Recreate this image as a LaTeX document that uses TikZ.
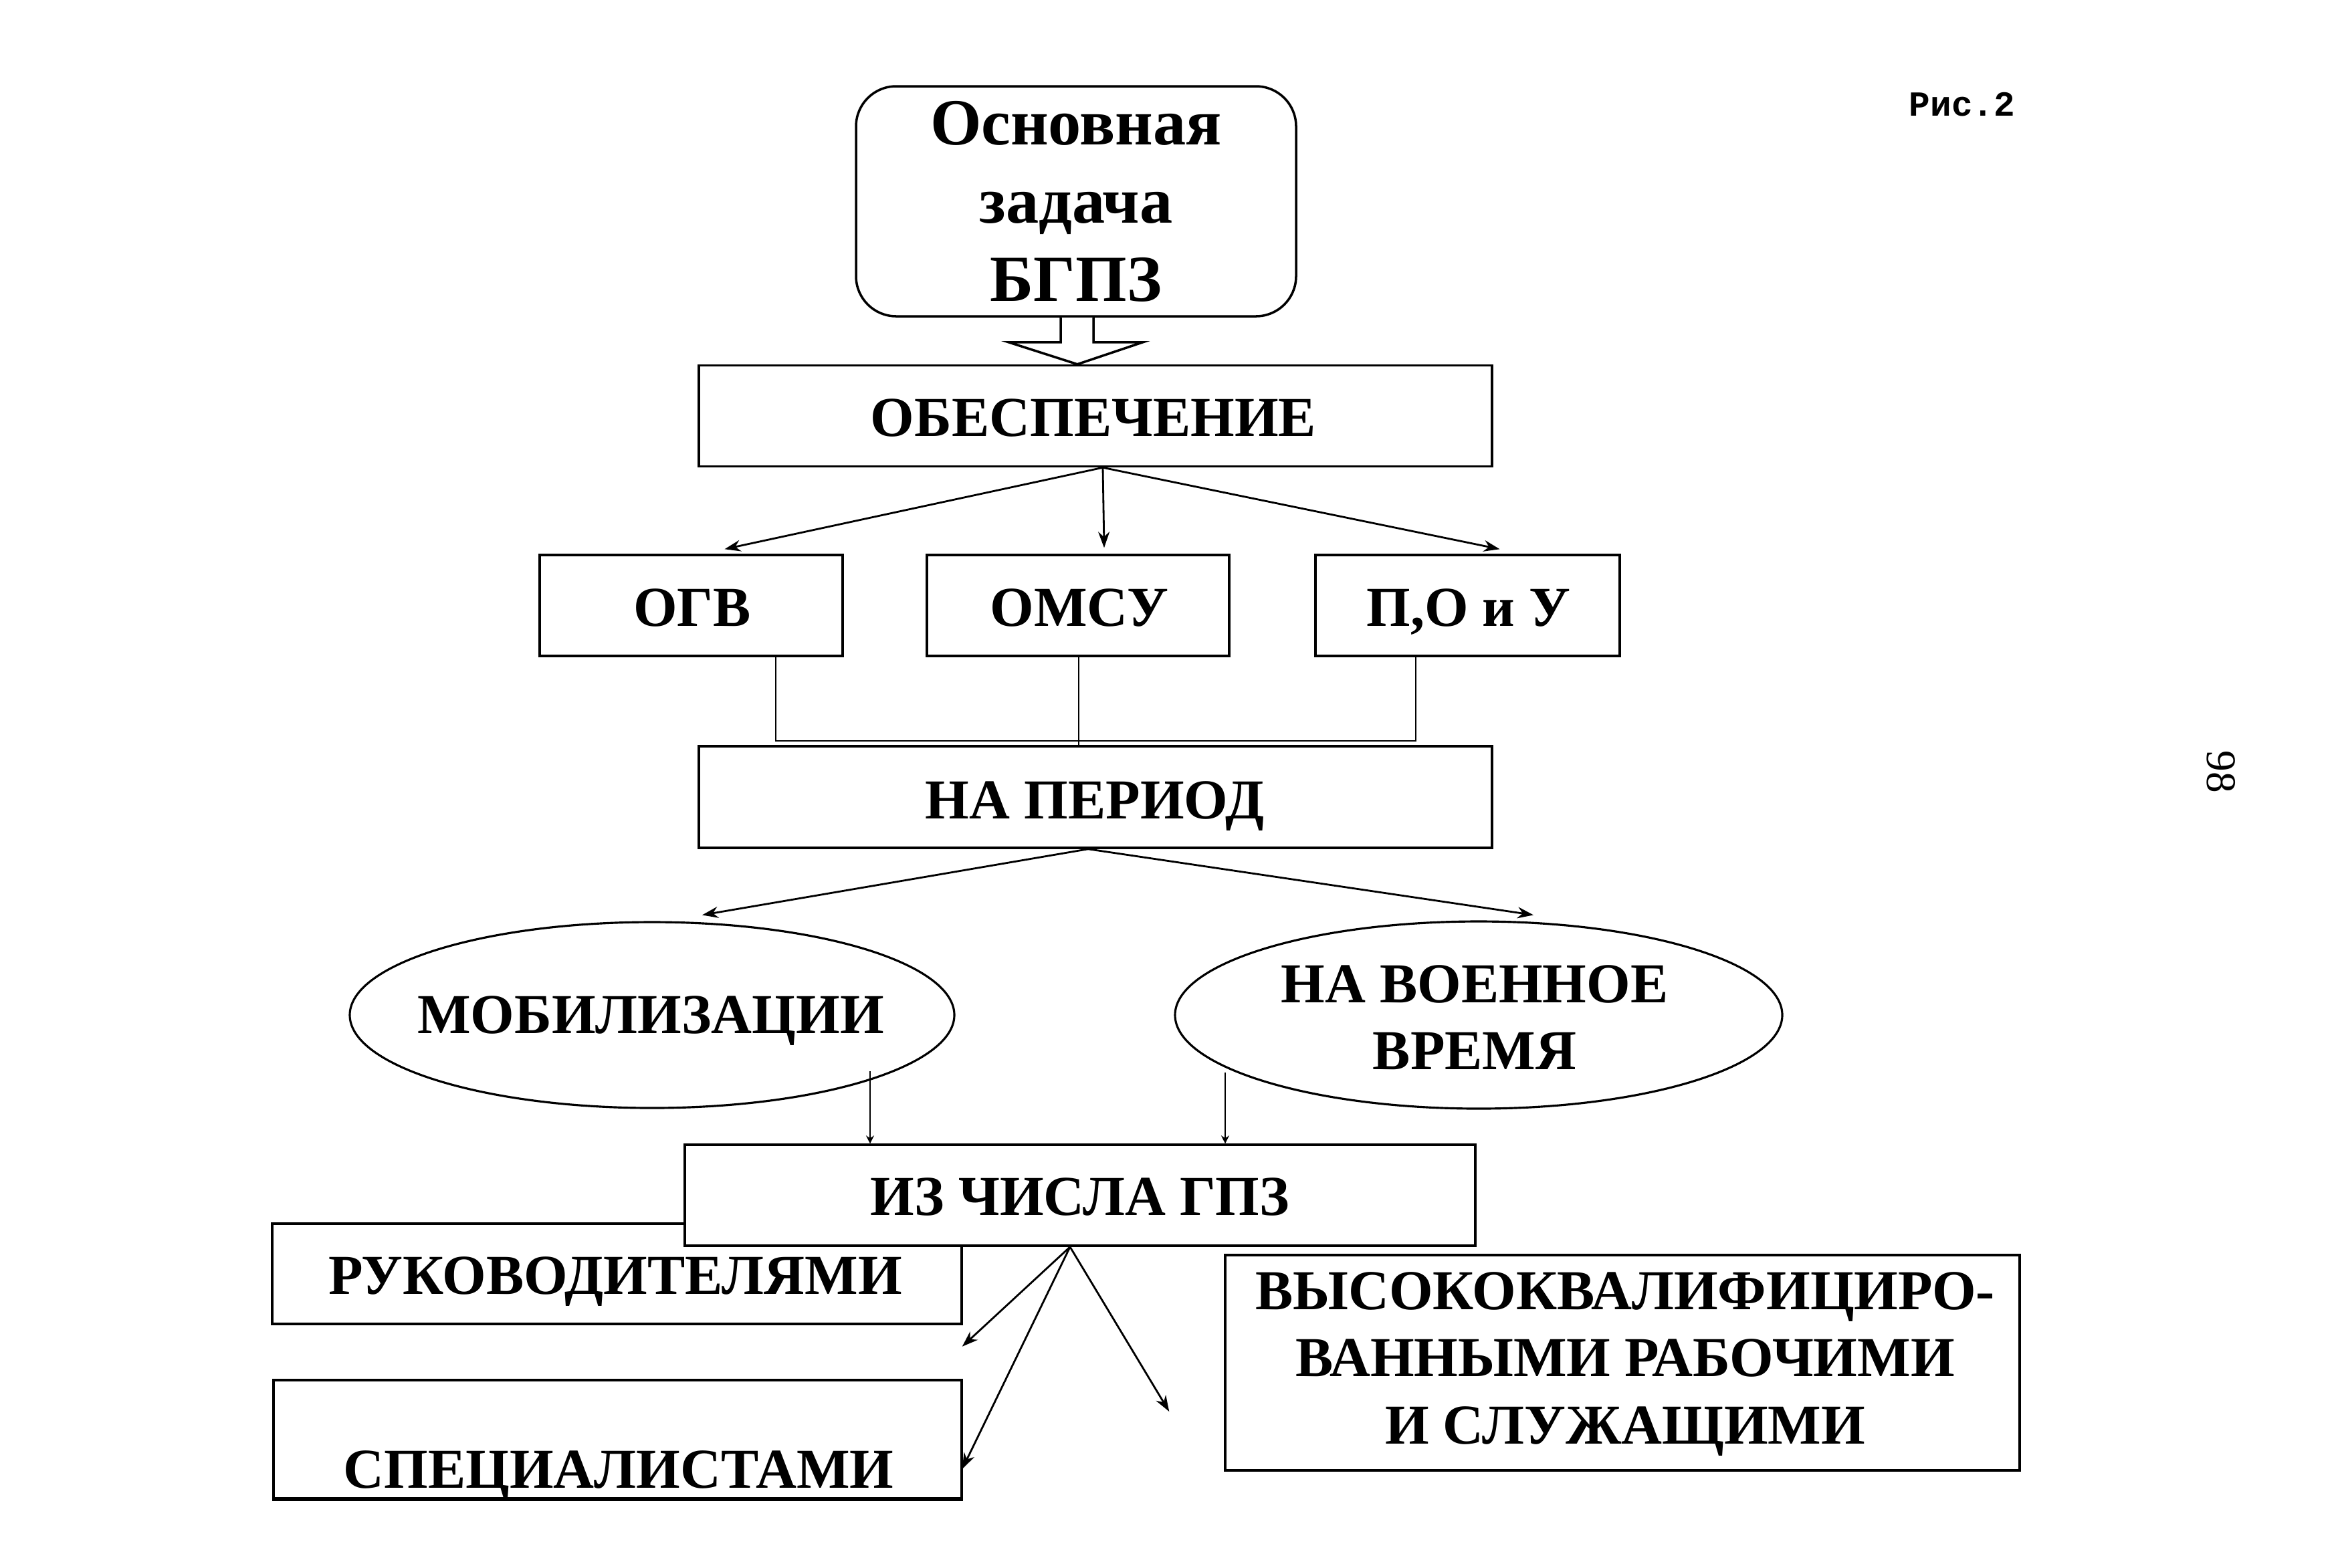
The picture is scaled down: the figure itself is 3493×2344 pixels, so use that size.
\documentclass[tikz,border=0pt]{standalone}
\usepackage{fontspec}
\setmainfont{Liberation Serif}
\newfontfamily\monofnt{Liberation Mono}
\usetikzlibrary{shapes.geometric,arrows.meta,calc}
\begin{document}
\begin{tikzpicture}[x=0.1mm,y=-0.1mm,
  box/.style={draw, line width=1pt, fill=white, inner sep=0pt, align=center},
  lbl/.style={font=\fontsize{24}{28.4}\selectfont\bfseries, inner sep=0pt, text height=15.9pt, text depth=0pt},
  mlbl/.style={font=\fontsize{24}{28.4}\selectfont\bfseries, inner sep=0pt, align=center},
  oval/.style={draw, ellipse, line width=0.9pt, inner sep=0pt},
  arr/.style={-{Stealth[length=2.4mm,width=1.7mm]}, line width=0.8pt},
  tinyarr/.style={-{Stealth[length=1.2mm,width=1.2mm]}, line width=0.6pt},
  link/.style={line width=0.7pt}]
\useasboundingbox (0,0) rectangle (3493,2344);
\fill[white] (0,0) rectangle (3493,2344);

% top box
\node[box, rounded corners=6mm, minimum width=65.8mm, minimum height=34.4mm,
      font=\fontsize{28}{33.3}\selectfont\bfseries] (top) at (1609,301)
      {Основная\\задача\\БГПЗ};

\node[box, minimum width=118.6mm, minimum height=15.1mm] (obesp) at (1638,622) {};
\node[lbl] (obespt) at (1635,625) {ОБЕСПЕЧЕНИЕ};

% hollow block arrow
\draw[line width=1pt, fill=white]
  ($(top.south)+(-23,0)$) -- ($(top.south)+(-23,37)$) -- ($(top.south)+(-101,37)$)
  -- ($(obesp.north)+(-27,0)$) -- ($(top.south)+(100,37)$) -- ($(top.south)+(26,37)$)
  -- ($(top.south)+(26,0)$);

\node[box, minimum width=45.3mm, minimum height=15.1mm] (ogv) at (1033.5,905.5) {};
\node[lbl] (ogvt) at (1035,909) {ОГВ};
\node[box, minimum width=45.2mm, minimum height=15.1mm] (omsu) at (1612,905.5) {};
\node[lbl] (omsut) at (1614,909) {ОМСУ};
\node[box, minimum width=45.5mm, minimum height=15.1mm] (pou) at (2194.5,905.5) {};
\node[lbl] (pout) at (2196,909) {П,О и У};

\draw[arr] ($(obesp.south)+(11,0)$) -- ($(ogv.north)+(50,-7)$);
\draw[arr] ($(obesp.south)+(11,0)$) -- ($(omsu.north)+(39,-9)$);
\draw[arr] ($(obesp.south)+(11,0)$) -- ($(pou.north)+(48,-7)$);

\node[box, minimum width=118.6mm, minimum height=15.2mm] (period) at (1638,1192) {};
\node[lbl] (periodt) at (1637,1197) {НА ПЕРИОД};

\coordinate (og1) at ($(ogv.south)+(126.5,0)$);
\coordinate (po1) at ($(pou.south)+(-77.5,0)$);
\coordinate (om1) at ($(omsu.south)+(1,0)$);
\draw[link] (og1) -- ++(0,125) -| (po1);
\draw[link] (om1) -- (om1 |- period.north);

\node[oval, minimum width=90.4mm, minimum height=27.8mm] (mob) at (975,1518) {};
\node[lbl] (mobt) at (973,1518) {МОБИЛИЗАЦИИ};
\node[oval, minimum width=90.8mm, minimum height=28.0mm] (voen) at (2211,1518) {};
\node[mlbl] (voent) at (2205,1522) {НА ВОЕННОЕ\\ВРЕМЯ};

\draw[arr] ($(period.south)+(-11,0)$) -- ($(mob.north)+(75,-9)$);
\draw[arr] ($(period.south)+(-11,0)$) -- ($(voen.north)+(82,-8)$);

\node[box, minimum width=103.1mm, minimum height=15.0mm] (ruk) at (922.5,1905) {};
\node[lbl] (rukt) at (920,1908) {РУКОВОДИТЕЛЯМИ};

\node[box, minimum width=118.2mm, minimum height=15.1mm] (izch) at (1615,1787.5) {};
\node[lbl] (izcht) at (1615,1790) {ИЗ ЧИСЛА ГПЗ};

\coordinate (m1) at ($(mob.center)+(326,84)$);
\coordinate (v1) at ($(voen.center)+(-379,86)$);
\draw[tinyarr] (m1) -- (m1 |- izch.north);
\draw[tinyarr] (v1) -- (v1 |- izch.north);

\node[box, minimum width=102.9mm, minimum height=17.8mm] (spec) at (923.5,2153) {};
\draw[line width=1.6pt] ($(spec.south west)+(0,-2)$) -- ($(spec.south east)+(0,-2)$);
\node[lbl] (spect) at (925,2198) {СПЕЦИАЛИСТАМИ};

\node[box, minimum width=118.8mm, minimum height=32.2mm] (vys) at (2426,2038) {};
\node[font=\fontsize{24}{28.6}\selectfont\bfseries, inner sep=0pt, align=center] (vyst) at (2430,2040)
  {ВЫСОКОКВАЛИФИЦИРО-\\ВАННЫМИ РАБОЧИМИ\\И СЛУЖАЩИМИ};

\coordinate (free3) at ($(vys.west)+(-82,73)$);
\draw[arr] ($(izch.south)+(-15,0)$) -- ($(ruk.south east)+(-1,32)$);
\draw[arr] ($(izch.south)+(-15,0)$) -- ($(spec.east)+(-1,44)$);
\draw[arr] ($(izch.south)+(-15,0)$) -- (free3);

\node[font=\monofnt\bfseries\fontsize{15}{18}\selectfont, inner sep=0pt] (ris) at (2934,156) {Рис.2};
\node[font=\fontsize{18}{20}\selectfont, rotate=-90, inner sep=0pt] (pg) at (3321,1154) {98};
\end{tikzpicture}
\end{document}
